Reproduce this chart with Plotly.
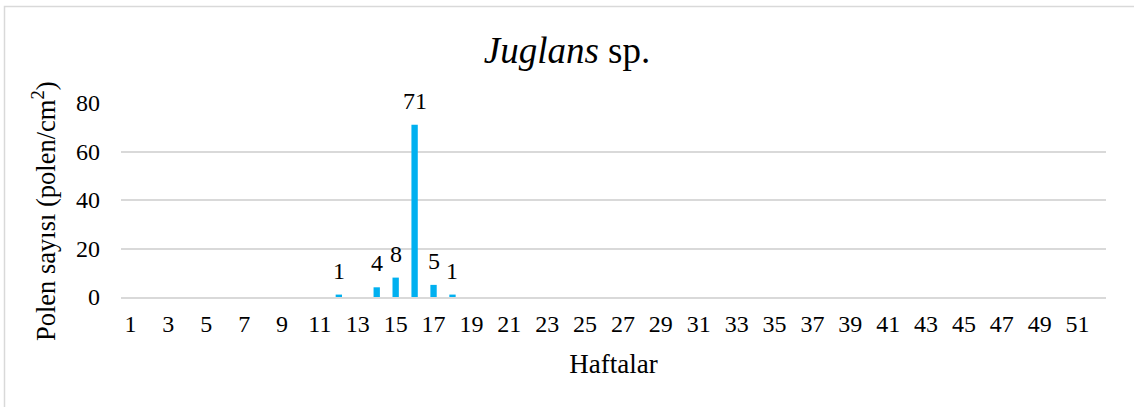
import plotly.graph_objects as go

weeks = list(range(1, 53))
values = [0] * 52
nonzero = {12: 1, 14: 4, 15: 8, 16: 71, 17: 5, 18: 1}
for w, v in nonzero.items():
    values[w - 1] = v
tick_vals = list(range(1, 53, 2))
tick_text = [str(t) for t in tick_vals]

W, H = 1134, 407
ml, mr, mt, mb = 121, 28, 103, 110
pw, ph = W - ml - mr, H - mt - mb

FONT = "Liberation Serif, Times New Roman, serif"

fig = go.Figure()
fig.add_trace(go.Bar(x=weeks, y=values, marker=dict(color="#00B0F0", line=dict(width=0)),
                     hoverinfo="x+y"))

for w, v in zip(weeks, values):
    if v > 0:
        fig.add_annotation(x=w, y=v, text=str(v), showarrow=False, yanchor="bottom",
                           yshift=9, font=dict(size=24, color="#000000", family=FONT))

def px_to_paper_x(p):
    return (p - ml) / pw

def px_to_paper_y(p):
    return (H - mb - p) / ph

fig.add_shape(type="rect", xref="paper", yref="paper",
              x0=px_to_paper_x(4.5), x1=px_to_paper_x(1150),
              y0=px_to_paper_y(430), y1=px_to_paper_y(6.5),
              line=dict(color="#D9D9D9", width=1.5), fillcolor="rgba(0,0,0,0)", layer="below")

# y-axis title, placed like the reference (centred lower than the plot area centre)
fig.add_annotation(text="Polen sayısı (polen/cm<sup>2</sup>)", textangle=-90, showarrow=False,
                   xref="paper", yref="paper", x=px_to_paper_x(44), y=px_to_paper_y(211),
                   xanchor="center", yanchor="middle",
                   font=dict(size=26.5, family=FONT, color="#000000"))

fig.update_layout(
    width=W, height=H,
    margin=dict(l=ml, r=mr, t=mt, b=mb, pad=0),
    paper_bgcolor="white", plot_bgcolor="white",
    bargap=0.665,
    showlegend=False,
    font=dict(family=FONT, color="#000000", size=24),
    title=dict(text="<i>Juglans</i> sp.", x=0.5, xanchor="center", y=1 - 50 / H, yanchor="middle",
               font=dict(size=37, family=FONT, color="#000000")),
    xaxis=dict(
        type="linear", range=[0.5, 52.5], tickmode="array", tickvals=tick_vals, ticktext=tick_text,
        showgrid=False, zeroline=False, showline=True, linecolor="#D9D9D9", linewidth=1.5,
        ticks="", ticklabelstandoff=4,
        tickfont=dict(size=24, family=FONT, color="#000000"),
        title=dict(text="Haftalar", font=dict(size=27, family=FONT, color="#000000"), standoff=19),
    ),
    yaxis=dict(
        range=[0, 80], tickmode="array", tickvals=[0, 20, 40, 60, 80],
        showgrid=True, gridcolor="#D9D9D9", gridwidth=1.5, zeroline=False, showline=False,
        ticks="", ticklabelstandoff=20,
        tickfont=dict(size=24, family=FONT, color="#000000"),
    ),
)

fig.write_html("out.html", config={"displayModeBar": False},
               post_script="document.body.style.margin='0';document.body.style.padding='0';")
